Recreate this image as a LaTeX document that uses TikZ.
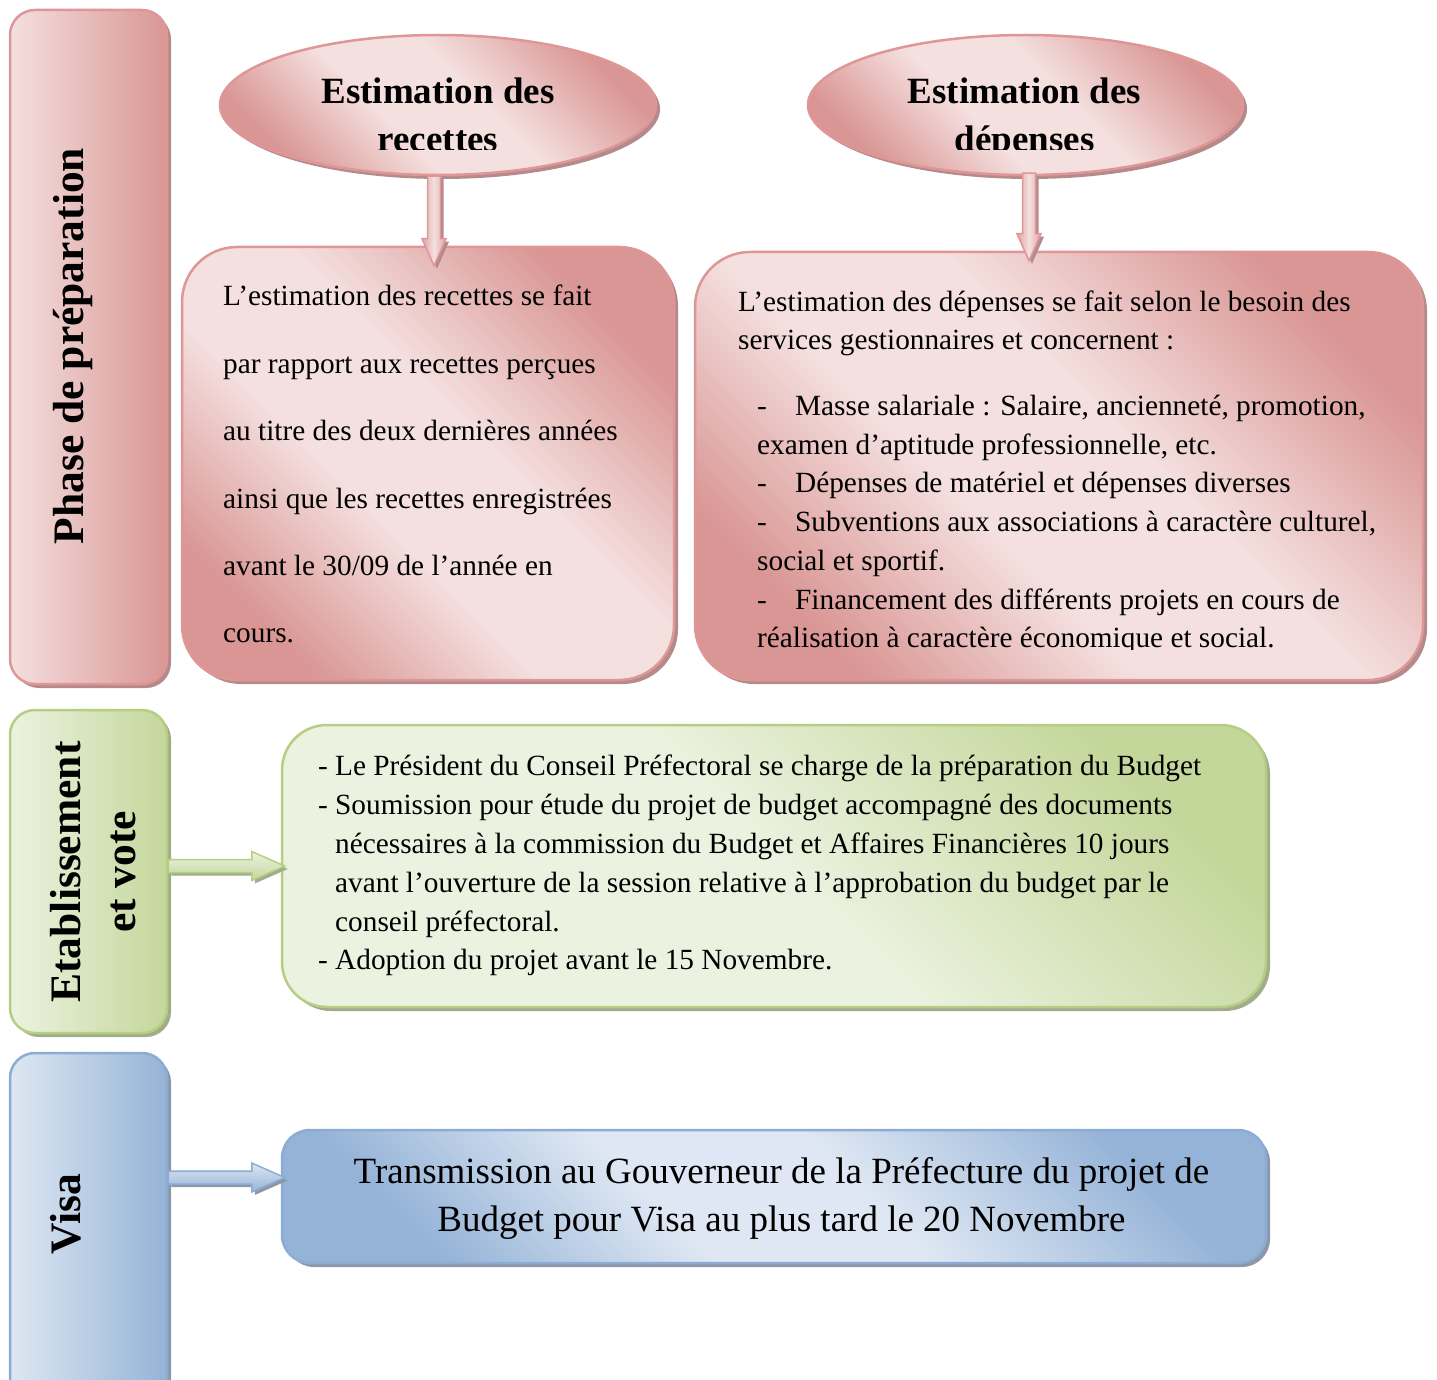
\documentclass[tikz,border=0pt]{standalone}
\usepackage{fontspec}
\setmainfont{Liberation Serif}
\usetikzlibrary{shapes.geometric,shadows,calc}

\definecolor{pinklight}{RGB}{244,224,223}
\definecolor{pinkdark}{RGB}{217,150,148}
\definecolor{pinkline}{RGB}{222,150,150}
\definecolor{pinkshadow}{RGB}{180,138,138}
\definecolor{greenlight}{RGB}{236,242,224}
\definecolor{greendark}{RGB}{196,215,155}
\definecolor{greenline}{RGB}{182,206,130}
\definecolor{greenshadow}{RGB}{160,172,140}
\definecolor{bluelight}{RGB}{222,231,243}
\definecolor{bluedark}{RGB}{149,179,215}
\definecolor{blueline}{RGB}{140,172,212}
\definecolor{blueshadow}{RGB}{140,152,170}

\pgfdeclareverticalshading{pinkshade}{100bp}{color(0bp)=(pinkdark); color(25bp)=(pinkdark);
  color(42bp)=(pinklight); color(56bp)=(pinklight); color(75bp)=(pinkdark); color(100bp)=(pinkdark)}
\pgfdeclareverticalshading{greenshade}{100bp}{color(0bp)=(greenlight); color(50bp)=(greenlight);
  color(75bp)=(greendark); color(100bp)=(greendark)}
\pgfdeclareverticalshading{blueshade}{100bp}{color(0bp)=(bluedark); color(25bp)=(bluedark);
  color(42bp)=(bluelight); color(56bp)=(bluelight); color(75bp)=(bluedark); color(100bp)=(bluedark)}

\newcommand{\dashitem}{\makebox[17pt][l]{-}}
\newcommand{\dashskip}{\makebox[17pt]{}}
\newcommand{\listdash}{\makebox[38pt][l]{-}}

\begin{document}
\begin{tikzpicture}[x=1pt, y=-1pt,
    shape box/.style={draw=#1line, line width=2.5pt, inner sep=0pt,
      shade, shading=#1shade, shading angle=-45,
      drop shadow={shadow xshift=4pt, shadow yshift=-4pt, fill=#1shadow, opacity=1}},
    sidebar/.style={shape box=#1, rounded corners=25pt, minimum width=157pt,
      left color=#1light, right color=#1dark},
    sidelabel/.style={rotate=90, anchor=base, inner sep=0pt,
      font=\fontsize{43.5}{50}\selectfont\bfseries},
    heading/.style={anchor=north, inner sep=0pt, align=center,
      font=\fontsize{37}{48}\selectfont\bfseries},
    body/.style={anchor=north west, inner sep=0pt, align=left},
    fat down/.style={to path={let \p1=(\tikztostart), \p2=(\tikztotarget) in
      (\x1-6.5,\y1) -- (\x1+6.5,\y1) -- (\x1+6.5,\y2+27) -- (\x1+12,\y2+27)
      -- (\x1,\y2) -- (\x1-12,\y2+27) -- (\x1-6.5,\y2+27) -- cycle}},
    fat right/.style={to path={let \p1=(\tikztostart), \p2=(\tikztotarget) in
      (\x1,\y1+6.5) -- (\x2-33,\y1+6.5) -- (\x2-33,\y1+14.5) -- (\x2,\y1)
      -- (\x2-33,\y1-14.5) -- (\x2-33,\y1-6.5) -- (\x1,\y1-6.5) -- cycle}},
    block arrow/.style={draw=#1line, line width=1.5pt,
      drop shadow={shadow xshift=3pt, shadow yshift=-3pt, fill=#1shadow, opacity=1}}]

\useasboundingbox (0,0) rectangle (1437,1380);
\clip (0,0) rectangle (1437,1380);

\node[sidebar=pink, minimum height=674pt] (pbar) at (88.5,347) {};
\node[sidebar=green, minimum height=323pt] (gbar) at (88.5,871.5) {};
\node[sidebar=blue, minimum height=367pt] (bbar) at (88.5,1236.5) {};

\node[shape box=pink, ellipse, minimum width=436pt, minimum height=140pt] (e1) at (438,105) {};
\node[shape box=pink, ellipse, minimum width=435pt, minimum height=140pt] (e2) at (1025.5,105) {};
\node[shape box=pink, rounded corners=55pt, minimum width=492pt, minimum height=433pt] (b1) at (428,463.5) {};
\node[shape box=pink, rounded corners=55pt, minimum width=728pt, minimum height=428pt] (b2) at (1059,466) {};
\node[shape box=green, rounded corners=45pt, minimum width=984pt, minimum height=282pt] (gbox) at (774,866) {};
\node[shape box=blue, rounded corners=28pt, minimum width=984pt, minimum height=133pt] (bbox) at (774,1196.5) {};

\coordinate[xshift=-4pt] (a1) at (e1.south);
\coordinate[yshift=-20pt] (tip1) at (a1 |- b1.north);
\coordinate[xshift=3.5pt, yshift=3pt] (a2) at (e2.south);
\coordinate[yshift=-10pt] (tip2) at (a2 |- b2.north);
\coordinate (a3) at (gbar.east |- gbox.west);
\coordinate[xshift=4pt] (tip3) at (gbox.west);
\coordinate[yshift=19pt] (a4) at (bbar.east |- bbox.west);
\coordinate[xshift=4pt, yshift=19pt] (tip4) at (bbox.west);

\draw[block arrow=pink, left color=pinkdark!85, right color=pinkdark!85, middle color=pinklight, fat down] (a1) to (tip1);
\draw[block arrow=pink, left color=pinkdark!85, right color=pinkdark!85, middle color=pinklight, fat down] (a2) to (tip2);
\draw[block arrow=green, top color=greenlight, bottom color=greendark, fat right] (a3) to (tip3);
\draw[block arrow=blue, top color=bluelight, bottom color=bluedark, fat right] (a4) to (tip4);

\node[sidelabel] (plabel) at (83,346) {Phase de préparation};
\node[sidelabel] (elabel) at (80,872) {Etablissement};
\node[sidelabel] (vlabel) at (135,872) {et vote};
\node[sidelabel] (visalabel) at (80,1214.5) {Visa};

\begin{scope}
  \clip (200,0) rectangle (1300,150);
  \node[heading] (h1) at (438,78) {Estimation des\\recettes};
  \node[heading] (h2) at (1024.5,78) {Estimation des\\dépenses};
\end{scope}

\node[body, font=\fontsize{29.3}{67.4}\selectfont] (rectxt) at (223,285) {L’estimation des recettes se fait\\par rapport aux recettes perçues\\au titre des deux dernières années\\ainsi que les recettes enregistrées\\avant le 30/09 de l’année en\\cours.};

\begin{scope}
  \clip (690,240) rectangle (1430,649);
  \node[body, font=\fontsize{29.3}{37.5}\selectfont] (depintro) at (738,291) {L’estimation des dépenses se fait selon le besoin des\\services gestionnaires et concernent :};
  \node[body, font=\fontsize{29.3}{38.7}\selectfont] (deplist) at (757,395) {\listdash Masse salariale : Salaire, ancienneté, promotion,\\examen d’aptitude professionnelle, etc.\\\listdash Dépenses de matériel et dépenses diverses\\\listdash Subventions aux associations à caractère culturel,\\social et sportif.\\\listdash Financement des différents projets en cours de\\réalisation à caractère économique et social.};
\end{scope}

\node[body, font=\fontsize{29.3}{38.8}\selectfont] (votetxt) at (318,755) {\dashitem Le Président du Conseil Préfectoral se charge de la préparation du Budget\\\dashitem Soumission pour étude du projet de budget accompagné des documents\\\dashskip nécessaires à la commission du Budget et Affaires Financières 10 jours\\\dashskip avant l’ouverture de la session relative à l’approbation du budget par le\\\dashskip conseil préfectoral.\\\dashitem Adoption du projet avant le 15 Novembre.};

\node[anchor=north, inner sep=0pt, align=center, font=\fontsize{37}{48.5}\selectfont] (visatxt) at (781.5,1157) {Transmission au Gouverneur de la Préfecture du projet de\\Budget pour Visa au plus tard le 20 Novembre};
\end{tikzpicture}
\end{document}
